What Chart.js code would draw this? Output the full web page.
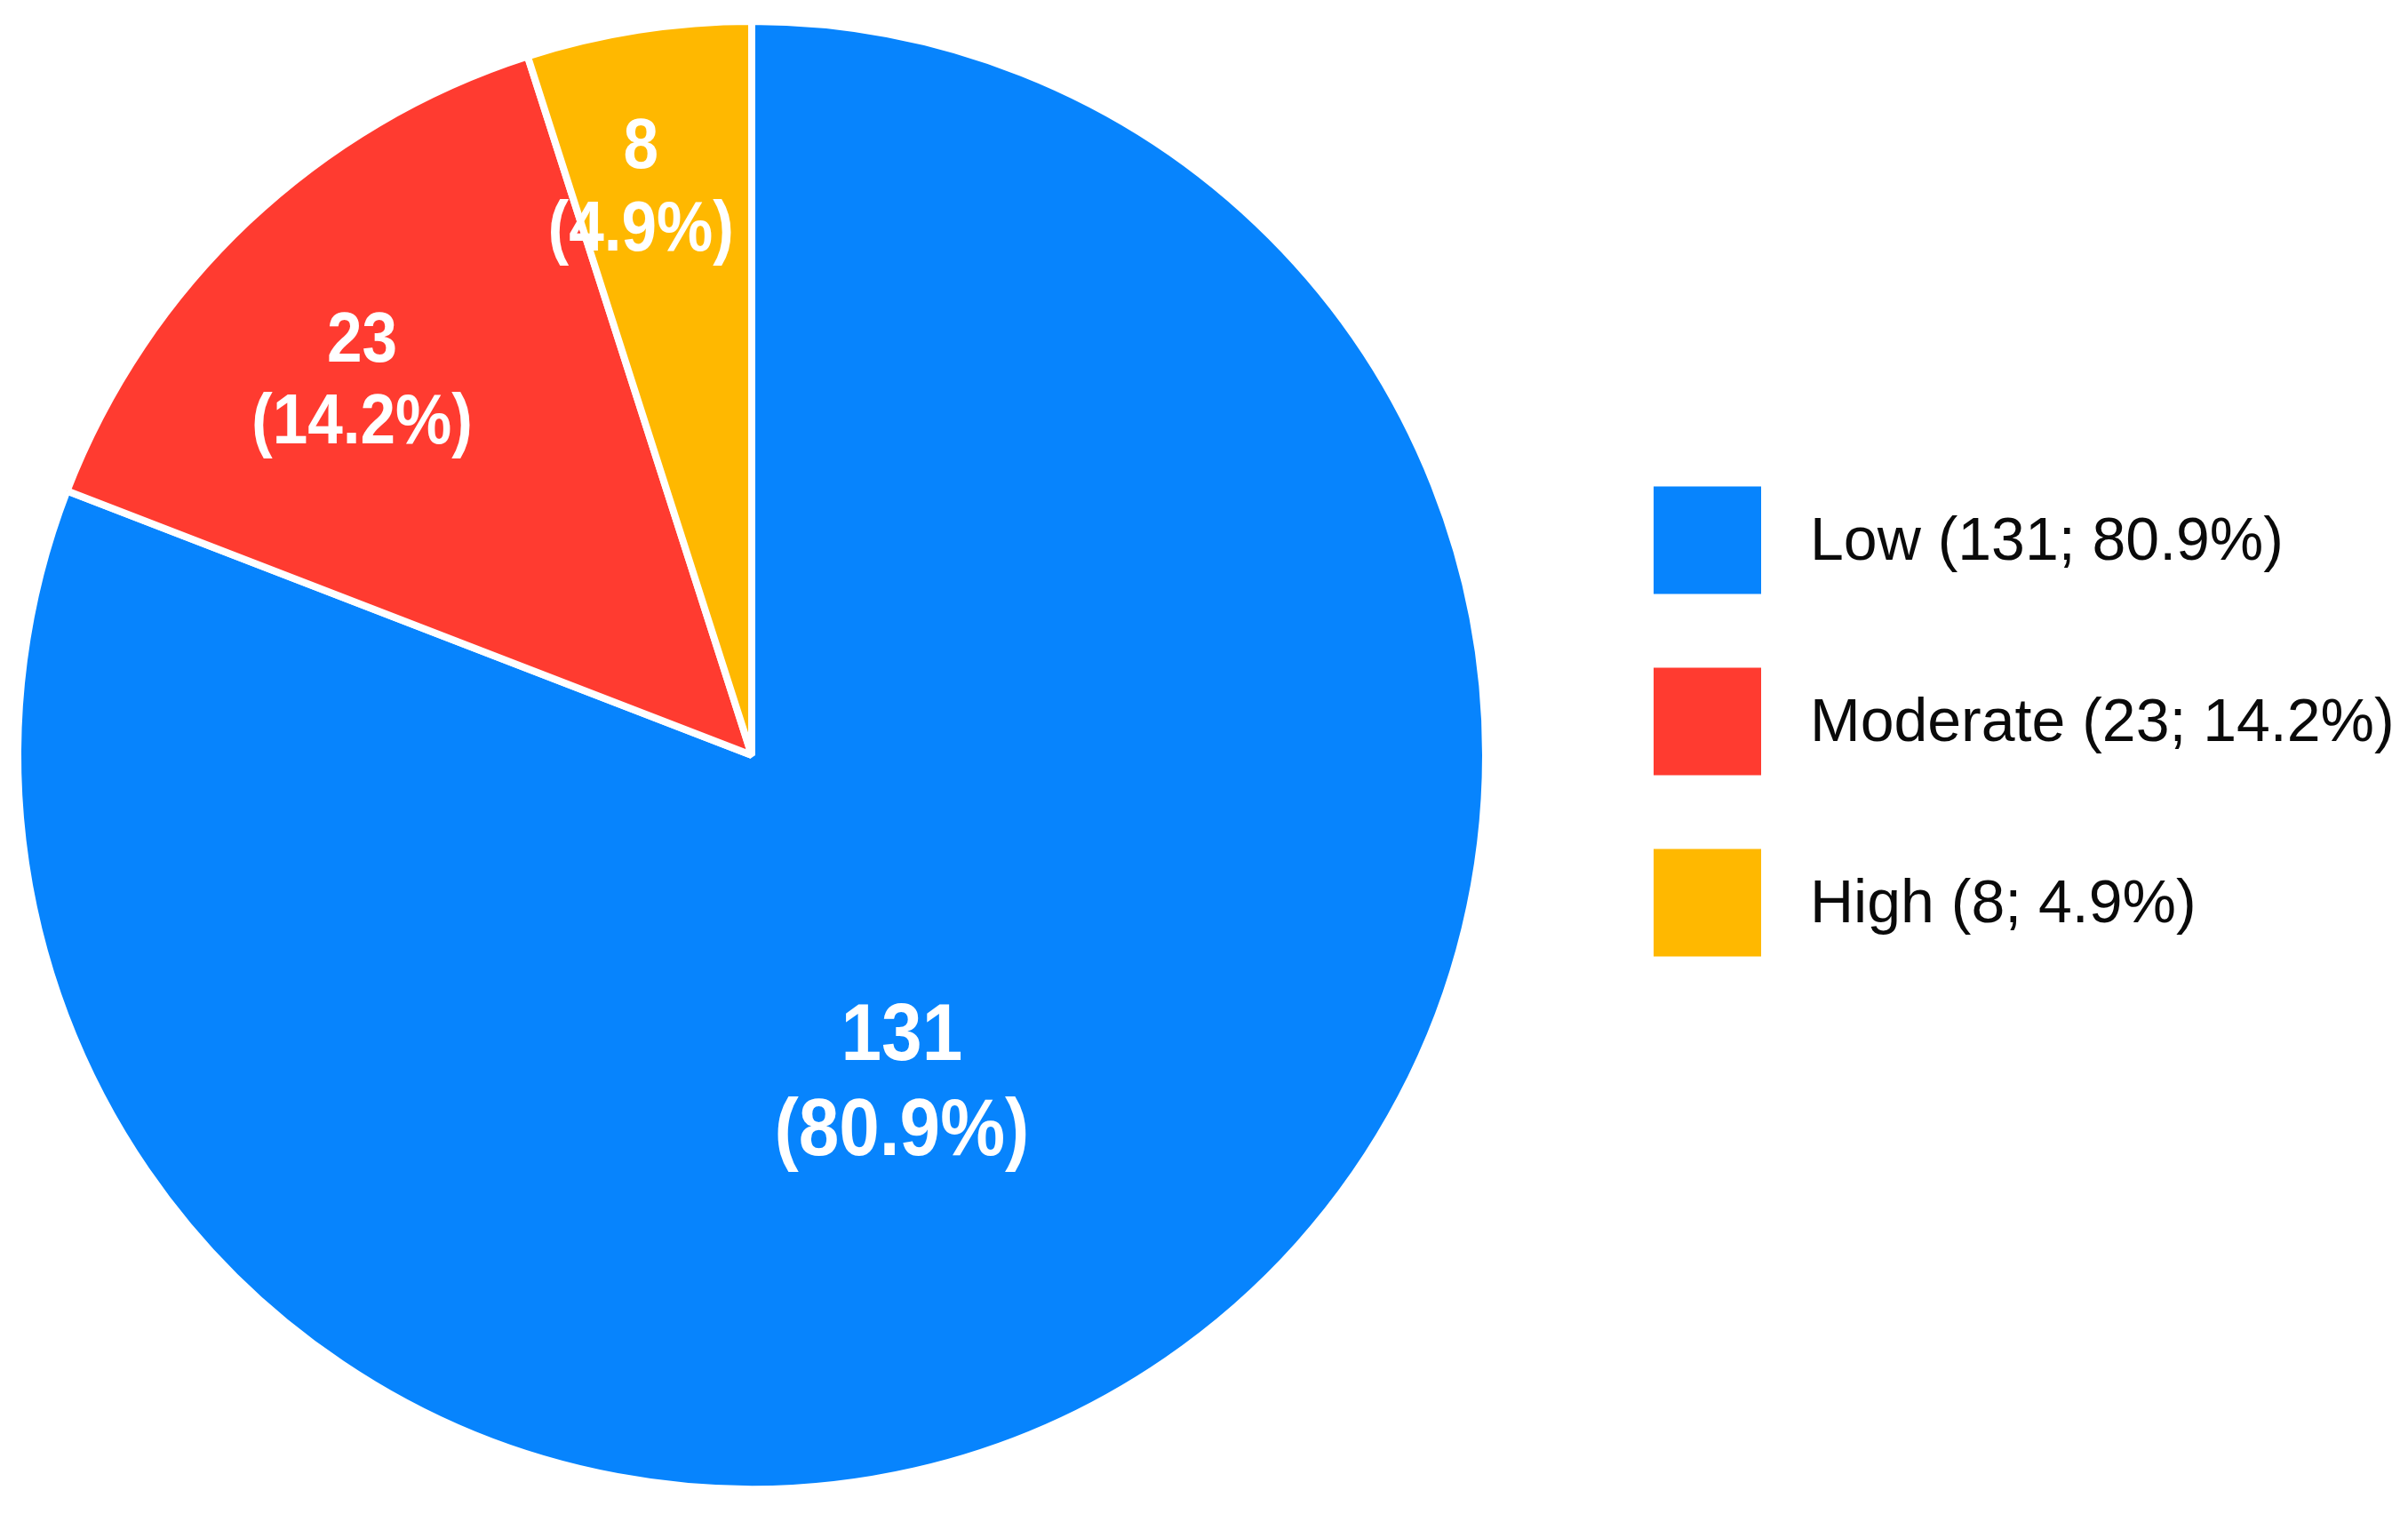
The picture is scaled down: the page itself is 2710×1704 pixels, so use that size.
<!DOCTYPE html>
<html>
<head>
<meta charset="utf-8">
<script src="https://cdn.jsdelivr.net/npm/chart.js@4.4.1/dist/chart.umd.min.js"></script>
<style>
  html, body { margin: 0; padding: 0; background: #ffffff; }
  #wrap { width: 2710px; height: 1704px; position: relative; }
</style>
</head>
<body>
<div id="wrap"><canvas id="riskPie"></canvas></div>
<script>
// ===============================
// Risk level distribution (Pie)
// ===============================

const riskLabels = ["Low", "Moderate", "High"];
const riskCounts = [131, 23, 8];
const riskColors = ["#0784FD", "#FF3B30", "#FFB800"];

const riskTotal = riskCounts.reduce((a, b) => a + b, 0);
const pct = v => (v / riskTotal * 100).toFixed(1);

// value + percentage drawn inside each slice
const sliceLabels = {
    id: "sliceLabels",
    afterDatasetsDraw(chart, args, opts) {
        const ctx = chart.ctx;
        const meta = chart.getDatasetMeta(0);
        meta.data.forEach((arc, i) => {
            const p = arc.getProps(["x", "y", "startAngle", "endAngle", "outerRadius"], true);
            const mid = (p.startAngle + p.endAngle) / 2 + opts.shift[i] * Math.PI / 180;
            const r = p.outerRadius * opts.radius[i];
            const cx = p.x + Math.cos(mid) * r;
            const cy = p.y + Math.sin(mid) * r;
            const size = opts.size[i];
            const gap = size * 1.17;
            ctx.save();
            ctx.translate(cx, cy);
            ctx.scale(opts.squeeze, 1);   // glyphs a bit narrower, like the original
            ctx.fillStyle = "#ffffff";
            ctx.textAlign = "center";
            ctx.textBaseline = "middle";
            ctx.font = "bold " + size + "px 'Liberation Sans', Arial, sans-serif";
            ctx.fillText(String(riskCounts[i]), 0, -gap / 2);
            ctx.fillText("(" + pct(riskCounts[i]) + "%)", 0, gap / 2);
            ctx.restore();
        });
    }
};

// legend on the right with square swatches
const sideLegend = {
    id: "sideLegend",
    afterDraw(chart, args, opts) {
        const ctx = chart.ctx;
        const area = chart.chartArea;
        const box = opts.box;
        const step = opts.step;
        const x = area.right + opts.offsetX;
        const midY = (area.top + area.bottom) / 2 + opts.offsetY;
        const top0 = midY - (step * (riskLabels.length - 1) + box) / 2;
        ctx.save();
        ctx.font = opts.fontSize + "px 'Liberation Sans', Arial, sans-serif";
        ctx.textBaseline = "middle";
        ctx.textAlign = "left";
        riskLabels.forEach((lab, i) => {
            const y = top0 + i * step;
            ctx.fillStyle = riskColors[i];
            ctx.fillRect(x, y, box, box);
            ctx.fillStyle = "#0a0a0a";
            ctx.fillText(lab + " (" + riskCounts[i] + "; " + pct(riskCounts[i]) + "%)", x + box + opts.textGap, y + box / 2 + 3);
        });
        ctx.restore();
    }
};

new Chart(document.getElementById("riskPie"), {
    type: "pie",
    data: {
        labels: riskLabels,
        datasets: [{
            data: riskCounts,
            backgroundColor: riskColors,
            borderColor: "#ffffff",
            borderWidth: 8
        }]
    },
    options: {
        responsive: true,
        maintainAspectRatio: false,
        animation: false,
        layout: {
            padding: { left: 16, top: 20, bottom: 24, right: 1034 }
        },
        plugins: {
            legend: { display: false },
            tooltip: { enabled: false },
            sliceLabels: {
                radius: [0.494, 0.734, 0.785],
                shift: [10, -3, -2.2],
                size: [91, 79, 79],
                squeeze: 0.9
            },
            sideLegend: {
                offsetX: 185,
                offsetY: -38,
                box: 121,
                step: 204,
                textGap: 55,
                fontSize: 68
            }
        }
    },
    plugins: [sliceLabels, sideLegend]
});
</script>
</body>
</html>
